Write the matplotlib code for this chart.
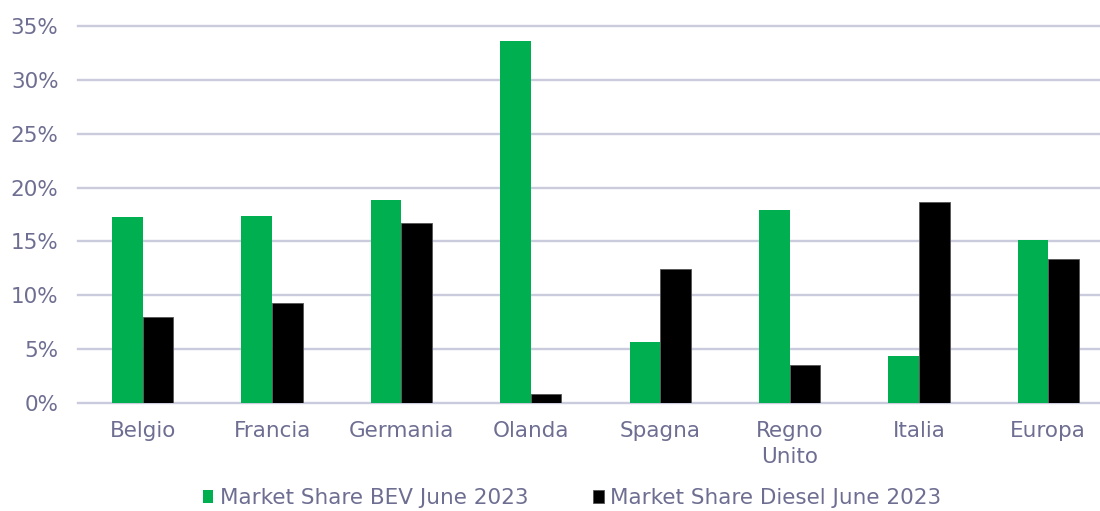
import numpy as np
import matplotlib.pyplot as plt
from matplotlib.ticker import PercentFormatter

paesi = ["Belgio", "Francia", "Germania", "Olanda", "Spagna", "Regno\nUnito", "Italia", "Europa"]
bev = [17.3, 17.4, 18.85, 33.6, 5.7, 17.9, 4.4, 15.1]
diesel = [8.0, 9.25, 16.75, 0.86, 12.4, 3.5, 18.66, 13.37]

verde = '#00b050'
nero = '#000000'
testo = '#6e6e92'
griglia = '#cbcbde'

plt.rcParams['font.family'] = ['DejaVu Sans']

fig = plt.figure(figsize=(11, 5.11), dpi=100)
ax = fig.add_axes([78/1100, 1-403/511, 1035/1100, (403-26)/511])

x = np.arange(len(paesi))
w = 0.237
ax.bar(x - w/2, bev, width=w, color=verde, label='Market Share BEV June 2023', zorder=3)
ax.bar(x + w/2, diesel, width=w, color=nero, edgecolor='#555555', linewidth=0.6,
       label='Market Share Diesel June 2023', zorder=3)

ax.set_xlim(-0.5, len(paesi) - 0.5)
ax.set_ylim(0, 35)
ax.set_yticks(np.arange(0, 36, 5))
ax.yaxis.set_major_formatter(PercentFormatter(decimals=0))
ax.set_xticks(x)
ax.set_xticklabels(paesi, linespacing=1.35)
ax.tick_params(axis='y', length=0, pad=14, labelsize=15.5, labelcolor=testo)
ax.tick_params(axis='x', length=0, pad=13, labelsize=15.5, labelcolor=testo)
ax.grid(axis='y', color=griglia, linewidth=1.7, zorder=0)
for g in ax.get_ygridlines():
    g.set_clip_on(False)
for s in ax.spines.values():
    s.set_visible(False)

fig.legend(loc='center', bbox_to_anchor=(0.52, 0.025), ncol=2, frameon=False,
           fontsize=15.5, labelcolor=testo, handlelength=0.5, handleheight=0.55,
           handletextpad=0.3, columnspacing=3.0)

fig.savefig('out.png', dpi=100)
